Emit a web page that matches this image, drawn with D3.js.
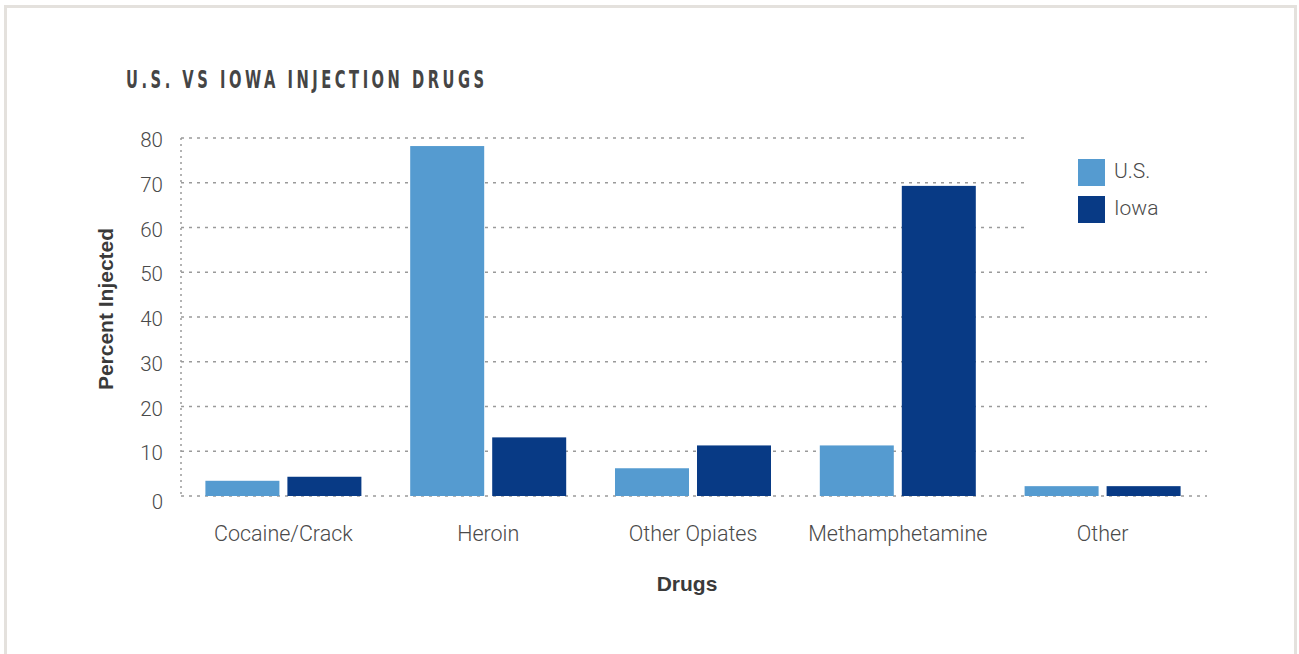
<!DOCTYPE html>
<html>
<head>
<meta charset="utf-8">
<script src="https://cdn.jsdelivr.net/npm/d3@7"></script>
<style>
  body { margin: 0; background: #fff; }
  svg { display: block; }
</style>
</head>
<body>
<svg></svg>
<script>
var drugs = ["Cocaine/Crack", "Heroin", "Other Opiates", "Methamphetamine", "Other"];
var series = ["U.S.", "Iowa"];
var usValues = [3.4, 78.2, 6.2, 11.3, 2.2];
var iowaValues = [4.3, 13.1, 11.3, 69.3, 2.2];
var yTicks = [0, 10, 20, 30, 40, 50, 60, 70, 80];
var colors = ["#559bd0", "#083a85"];

var screen = {width: 1299, height: 654};
var plot = {left: 181, right: 1207, top: 138, bottom: 496};

var svg = d3.select("svg")
    .attr("width", screen.width)
    .attr("height", screen.height);

// card frame
svg.append("rect")
    .attr("x", 5.5).attr("y", 6.5)
    .attr("width", 1290).attr("height", 700)
    .attr("fill", "none")
    .attr("stroke", "#e4e1dd")
    .attr("stroke-width", 3);

// condensed, widely spaced title
svg.append("text")
    .attr("transform", "translate(126,88) scale(0.6,1)")
    .attr("textLength", 597)
    .attr("lengthAdjust", "spacing")
    .attr("font-family", "DejaVu Sans")
    .attr("font-weight", "bold")
    .attr("font-size", 24.5)
    .attr("fill", "#454545")
    .text("U.S. VS IOWA INJECTION DRUGS");

var xScale = d3.scaleBand()
    .domain(drugs)
    .range([181, 1205]);

var xInner = d3.scaleBand()
    .domain(series)
    .range([24.4, xScale.bandwidth() - 24.4])
    .paddingInner(0.0976);

var yScale = d3.scaleLinear()
    .domain([0, 80])
    .range([plot.bottom, plot.top]);

// grid lines (top three stop before the legend)
var grid = svg.append("g");
grid.selectAll("line")
    .data(yTicks)
    .enter()
    .append("line")
    .attr("x1", plot.left)
    .attr("x2", function(d){ return d >= 60 ? 1027 : plot.right; })
    .attr("y1", function(d){ return yScale(d); })
    .attr("y2", function(d){ return yScale(d); })
    .attr("stroke", "#9a9a9a")
    .attr("stroke-width", 1.5)
    .attr("stroke-dasharray", "3,5");

grid.append("line")
    .attr("x1", plot.left).attr("x2", plot.left)
    .attr("y1", plot.top).attr("y2", plot.bottom)
    .attr("stroke", "#9a9a9a")
    .attr("stroke-width", 1.5)
    .attr("stroke-dasharray", "2,4");

var yAxis = d3.axisLeft(yScale)
    .tickValues(yTicks)
    .tickSize(0)
    .tickPadding(18);

var yg = svg.append("g")
    .attr("transform", "translate(" + plot.left + ",0)")
    .call(yAxis);
yg.select(".domain").remove();
yg.selectAll("text")
    .attr("font-family", "Roboto")
    .attr("font-weight", 300)
    .attr("font-size", 20.5)
    .attr("fill", "#4a4a4a")
    .attr("dy", function(d){ return d === 0 ? "0.62em" : "0.42em"; });

var groups = svg.append("g")
    .selectAll("g")
    .data(drugs)
    .enter()
    .append("g")
    .attr("transform", function(d){ return "translate(" + xScale(d) + ",0)"; });

groups.selectAll("rect")
    .data(function(d, i){ return [usValues[i], iowaValues[i]]; })
    .enter()
    .append("rect")
    .attr("x", function(v, j){ return xInner(series[j]); })
    .attr("width", xInner.bandwidth())
    .attr("y", function(v){ return yScale(v); })
    .attr("height", function(v){ return yScale(0) - yScale(v); })
    .attr("fill", function(v, j){ return colors[j]; });

var xAxis = d3.axisBottom(xScale).tickSize(0).tickPadding(30);
var xg = svg.append("g")
    .attr("transform", "translate(0," + plot.bottom + ")")
    .call(xAxis);
xg.select(".domain").remove();
xg.selectAll("text")
    .attr("font-family", "Roboto")
    .attr("font-weight", 300)
    .attr("font-size", 21.5)
    .attr("fill", "#4a4a4a");

svg.append("text")
    .attr("x", 687).attr("y", 591)
    .attr("text-anchor", "middle")
    .attr("font-family", "Liberation Sans, Arial")
    .attr("font-weight", "bold")
    .attr("font-size", 21)
    .attr("fill", "#3a3a3a")
    .text("Drugs");

svg.append("text")
    .attr("transform", "translate(113,309) rotate(-90)")
    .attr("text-anchor", "middle")
    .attr("font-family", "Liberation Sans, Arial")
    .attr("font-weight", "bold")
    .attr("font-size", 21)
    .attr("fill", "#3a3a3a")
    .text("Percent Injected");

var legend = svg.append("g")
    .selectAll("g")
    .data(series)
    .enter()
    .append("g")
    .attr("transform", function(d, i){ return "translate(1078," + (159 + i * 37) + ")"; });

legend.append("rect")
    .attr("width", 27).attr("height", 27)
    .attr("fill", function(d, i){ return colors[i]; });

legend.append("text")
    .attr("x", 36).attr("y", 19)
    .attr("font-family", "Roboto")
    .attr("font-weight", 300)
    .attr("font-size", 21)
    .attr("fill", "#4a4a4a")
    .text(function(d){ return d; });
</script>
</body>
</html>
